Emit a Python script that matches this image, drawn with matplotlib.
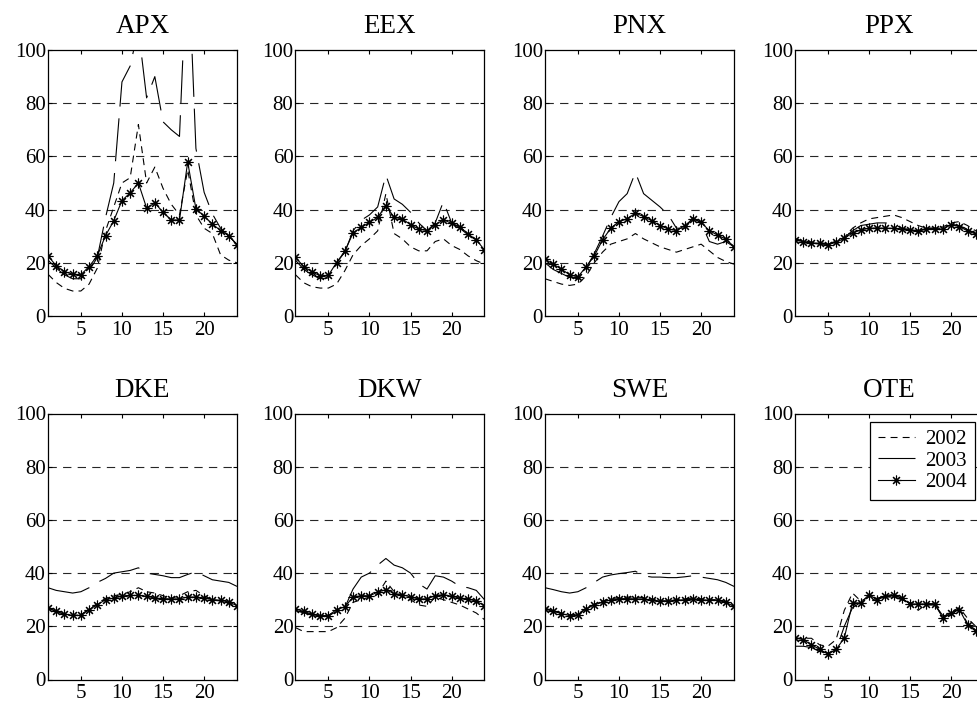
import numpy as np
import matplotlib.pyplot as plt

hours = np.arange(1, 25)
markets = ['APX', 'EEX', 'PNX', 'PPX', 'DKE', 'DKW', 'SWE', 'OTE']
years = ['2002', '2003', '2004']

APX_2002 = [15.7, 12.6, 10.4, 9.4, 9.4, 12, 18, 32, 41, 50, 52, 72,
            50, 56, 48, 42, 38, 55, 38, 33, 31, 23, 21, 20]
APX_2003 = [21, 18, 15.5, 14, 14, 17, 22, 37, 50, 88, 94, 108,
            82, 90, 73, 70, 67.5, 140, 63, 46.5, 38.4, 33, 30, 27]
APX_2004 = [22.6, 18.9, 16.7, 15.7, 15.5, 18.6, 22.6, 30.2, 35.8, 43.4, 46.3, 50,
            40.6, 42.5, 39, 36.1, 36.1, 57.9, 40.3, 37.5, 34.6, 32.1, 30.2, 26.7]

EEX_2002 = [15.5, 12.5, 11, 10.5, 10.5, 12, 17, 23, 26.5, 29, 32, 46,
            31, 29, 26, 24.5, 24.5, 28, 29, 26.5, 25, 22.6, 20.8, 19.5]
EEX_2003 = [21, 17.5, 15.5, 14, 14.3, 20, 24, 32, 36, 38, 41, 53,
            44, 42, 39, 35, 32, 35, 43, 35, 33, 30.5, 28.5, 24.5]
EEX_2004 = [22, 18.6, 16.6, 15.1, 15.3, 20.1, 24.3, 31.2, 33.3, 35.2, 37.1, 41.5,
            37.1, 36.5, 34.3, 32.7, 32.1, 34.3, 36.2, 34.8, 33.6, 30.8, 28.7, 24.8]

PNX_2002 = [14, 13, 12, 11.5, 12, 15, 20, 24, 27, 28, 29, 31,
            29, 27.5, 26, 25, 24, 25, 26, 27, 24.5, 22, 20.5, 19.5]
PNX_2003 = [20, 17.5, 16, 14.5, 14, 18, 23.5, 30, 37, 43, 46, 54,
            46, 43.5, 41, 38, 33, 33, 37, 35, 28, 27, 28, 26]
PNX_2004 = [21.4, 19.5, 17.6, 15.5, 14.7, 18.5, 22.6, 28.6, 33, 35.5, 36.5, 38.7,
            37.4, 35.8, 34, 32.7, 32.1, 34, 36.5, 35.2, 32.1, 30.4, 28.9, 26]

PPX_2002 = [29, 28.3, 27.8, 27.5, 27.2, 28, 29.5, 33, 35, 36.5, 37, 37.5,
            38, 37, 35.5, 34, 33, 33, 33.5, 35, 35.5, 34, 32, 30]
PPX_2003 = [29, 28, 27.5, 27, 27, 28, 29.5, 32, 34, 34.5, 35, 35,
            34.5, 33, 32.5, 32, 33, 33, 33, 34.5, 34, 32.5, 31, 30]
PPX_2004 = [28.5, 28, 27.4, 27.4, 26.8, 27.7, 29.2, 31.2, 32.3, 33, 33.1, 33,
            33, 32.7, 32.3, 31.8, 32.7, 32.7, 32.7, 34.3, 33.6, 32, 30.8, 30]

DKE_2002 = [27, 25.5, 24.5, 24, 24.3, 26.5, 28.5, 30.5, 31.5, 32, 33, 34.5,
            33, 32.5, 31.5, 30.5, 31.5, 33, 33.5, 31.5, 30, 29.5, 28.5, 26.5]
DKE_2003 = [34.5, 33.5, 33, 32.5, 33, 34.5, 36.5, 38, 40, 40.5, 41, 42,
            40, 39.5, 39, 38.3, 38.3, 39.5, 40.5, 39, 37.5, 37, 36.5, 35]
DKE_2004 = [26.9, 25.6, 24.6, 24.1, 24.1, 26.3, 28.1, 30, 30.6, 31.3, 31.6, 31.6,
            31.3, 30.6, 30.4, 30.3, 30.3, 31, 31, 30.6, 30, 29.8, 29.1, 27.8]

DKW_2002 = [19.5, 18, 18, 18, 18, 19.5, 23, 29, 30, 31, 32, 37,
            33, 31, 30, 28, 27.5, 31, 30, 29, 28, 26.5, 25, 22.5]
DKW_2003 = [26, 25, 24.5, 24, 24, 25.5, 27, 34, 38.5, 40, 43, 45.5,
            43, 42, 40, 36, 34, 39, 38.5, 37, 35, 34.5, 33.5, 30]
DKW_2004 = [26.5, 25.6, 24.6, 23.8, 24, 26.3, 27.3, 31, 31.5, 31.5, 32.8, 33.8,
            32.3, 31.9, 31, 30.3, 30.3, 31.5, 31.9, 31.3, 30.6, 30.3, 29.4, 27.8]

SWE_2002 = [26.8, 25.8, 25, 24.3, 24.6, 26.8, 28.3, 29.5, 30.5, 30.8, 31, 31,
            30.8, 30.3, 29.6, 29.6, 30, 30.4, 30.6, 30.3, 30, 30, 29.2, 27.3]
SWE_2003 = [34.5, 33.8, 33, 32.5, 33, 34.5, 36.5, 38.5, 39.3, 39.8, 40.2, 40.7,
            39, 38.5, 38.5, 38.3, 38.3, 38.6, 39, 38.5, 38, 37.5, 36.5, 35]
SWE_2004 = [26.5, 25.6, 24.8, 24, 24.4, 26.5, 28.1, 29, 30, 30.4, 30.4, 30.3,
            30.3, 29.8, 29.4, 29.4, 29.8, 30, 30.3, 30, 29.8, 29.8, 29, 27.5]

OTE_2002 = [15.5, 15.5, 15.5, 13, 12.5, 15, 26, 32.5, 29.5, 31, 30.5, 31.5,
            32, 30.5, 28.5, 26, 28.5, 28.5, 23.5, 25.5, 27, 23, 20, 17]
OTE_2003 = [12.5, 12.5, 12, 10.5, 10, 11, 20, 27, 29, 29.5, 30.5, 31,
            31, 30, 28.8, 29, 28, 28, 24, 24, 27, 21, 18.5, 16]
OTE_2004 = [15.6, 15, 13.1, 11.3, 9.6, 11.3, 15.6, 28.8, 28.8, 31.9, 30, 31.3,
            31.6, 30.6, 28.4, 28.4, 28.4, 28.4, 23.1, 25, 26.3, 20.6, 18.1, 16]

series = {
    'APX': (APX_2002, APX_2003, APX_2004),
    'EEX': (EEX_2002, EEX_2003, EEX_2004),
    'PNX': (PNX_2002, PNX_2003, PNX_2004),
    'PPX': (PPX_2002, PPX_2003, PPX_2004),
    'DKE': (DKE_2002, DKE_2003, DKE_2004),
    'DKW': (DKW_2002, DKW_2003, DKW_2004),
    'SWE': (SWE_2002, SWE_2003, SWE_2004),
    'OTE': (OTE_2002, OTE_2003, OTE_2004),
}

plt.rcParams['font.family'] = ['Liberation Serif', 'DejaVu Serif']
plt.rcParams['lines.scale_dashes'] = False

W, H = 978, 704
fig = plt.figure(figsize=(W / 100, H / 100), dpi=100)

# pixel boxes of the axes (left, top), matlab-like layout, last column runs off the page
col_left = [48, 295.5, 545, 795]
row_top = [50, 413.5]
ax_w, ax_h = 189, 266


def makeAxes(row, col):
    '''
        Axes placed by pixel position
    '''
    l = col_left[col] / W
    b = (H - row_top[row] - ax_h) / H
    return fig.add_axes([l, b, ax_w / W, ax_h / H])


def drawPanel(ax, name):
    y02, y03, y04 = series[name]
    for g in [20, 40, 60, 80]:
        ax.axhline(g, color='0.15', lw=0.8, dashes=(6, 4.5), zorder=0)
    ax.plot(hours, y02, color='k', lw=0.8, dashes=(5, 3.7), label=years[0])
    ax.plot(hours, y03, color='k', lw=0.8, dashes=(31, 8.5), label=years[1])
    ax.plot(hours, y04, color='k', lw=0.8, marker=(8, 2, 0), markersize=7,
            markeredgewidth=0.8, label=years[2])
    ax.set_xlim(1, 24)
    ax.set_ylim(0, 100)
    ax.set_xticks([5, 10, 15, 20])
    ax.set_yticks([0, 20, 40, 60, 80, 100])
    ax.tick_params(direction='in', top=True, right=True, length=3,
                   width=0.8, labelsize=15)
    ax.tick_params(axis='y', pad=1.5)
    ax.tick_params(axis='x', pad=3.5)
    for s in ax.spines.values():
        s.set_linewidth(0.9)
    ax.set_title(name, fontsize=19.5, pad=12)


for i, name in enumerate(markets):
    ax = makeAxes(i // 4, i % 4)
    drawPanel(ax, name)

# legend sits in the OTE panel, upper right
leg = ax.legend(loc='upper right', bbox_to_anchor=(975 / W, (H - 421.5) / H),
                bbox_transform=fig.transFigure, borderaxespad=0,
                fontsize=15, fancybox=False, framealpha=1, edgecolor='k',
                handlelength=1.75, handletextpad=0.5, labelspacing=0.08,
                borderpad=0.4)
leg.get_frame().set_linewidth(0.9)

fig.savefig('out.png', dpi=100)
